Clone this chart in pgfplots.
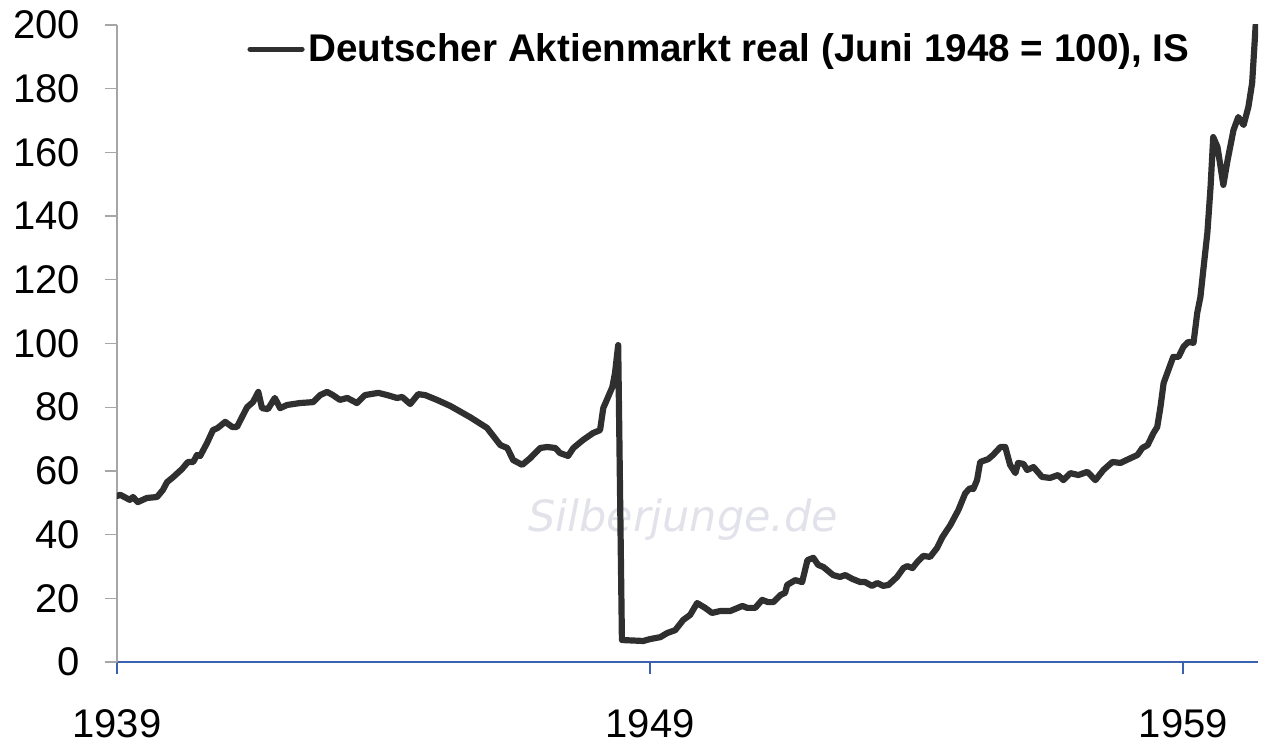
\documentclass[border=0pt]{standalone}
\usepackage{pgfplots}
\pgfplotsset{compat=1.18}
\usepackage{fontspec}
\setmainfont{Liberation Sans}
\newfontfamily\wmfont{DejaVu Sans}
\definecolor{linec}{HTML}{2F2F2F}
\definecolor{xblue}{HTML}{3A62B0}
\definecolor{wm}{HTML}{E2E2EA}
\begin{document}
\begin{tikzpicture}
\useasboundingbox (-58.5pt,-41.5pt) rectangle (574pt,331pt);
\begin{axis}[
  at={(0,0)}, anchor=south west,
  scale only axis, width=570.5pt, height=318.5pt,
  xmin=1939, xmax=1960.4, ymin=0, ymax=200,
  axis x line*=bottom, axis y line*=left,
  x axis line style={xblue, line width=1pt},
  y axis line style={gray!70, line width=0.6pt},
  xtick={1939,1949,1959},
  xticklabels={1939,1949,1959},
  ytick={0,20,...,200},
  tick align=outside,
  major tick length=6pt,
  x tick style={xblue, line width=1pt},
  y tick style={gray!70, line width=0.6pt},
  /pgf/number format/assume math mode=true,
  tick label style={font=\fontsize{20}{24}\selectfont, text=black},
  yticklabel style={xshift=-9pt},
  xticklabel style={inner sep=0pt, yshift=-17.5pt},
  clip=true,
  legend style={draw=none, fill=none, at={(axis description cs:0.1140,0.9620)}, anchor=west,
    inner sep=0pt, font=\bfseries\fontsize{19.3}{22}\selectfont, nodes={inner sep=2pt}},
  legend image code/.code={\draw[#1, line width=2.6pt] (0pt,0pt) -- (26pt,0pt);},
]
\node[font=\wmfont\itshape\fontsize{21.5}{24}\selectfont, text=wm] at (axis cs:1949.62,44.6) {Silberjunge.de};
\addplot[linec, line width=3.1pt, line join=round, line cap=round] table {
1939.00 52.1
1939.06 52.5
1939.24 50.9
1939.30 51.8
1939.39 50.2
1939.56 51.5
1939.75 51.8
1939.86 54.0
1939.94 56.5
1940.05 58.0
1940.22 60.6
1940.33 62.8
1940.43 62.8
1940.50 65.0
1940.56 64.7
1940.69 68.8
1940.80 72.8
1940.89 73.5
1941.03 75.4
1941.16 73.8
1941.25 73.8
1941.44 80.0
1941.55 81.6
1941.65 84.8
1941.72 79.7
1941.83 79.4
1941.96 82.9
1942.06 79.7
1942.19 80.7
1942.43 81.3
1942.68 81.6
1942.81 83.8
1942.94 84.8
1943.05 83.8
1943.18 82.3
1943.32 82.9
1943.50 81.3
1943.65 83.8
1943.90 84.5
1944.07 83.8
1944.25 82.9
1944.35 83.2
1944.50 81.0
1944.65 84.1
1944.78 83.8
1945.00 82.3
1945.25 80.4
1945.62 76.9
1945.94 73.5
1946.19 68.1
1946.32 67.2
1946.43 63.4
1946.60 61.9
1946.75 64.0
1946.94 67.2
1947.07 67.5
1947.22 67.2
1947.31 65.6
1947.46 64.7
1947.56 67.2
1947.74 69.7
1947.93 71.9
1948.06 72.8
1948.12 79.7
1948.29 86.3
1948.34 90.7
1948.40 99.5
1948.47 6.9
1948.87 6.6
1949.00 7.2
1949.19 7.8
1949.32 9.1
1949.47 10.0
1949.62 13.2
1949.75 14.8
1949.88 18.5
1950.03 17.0
1950.16 15.4
1950.31 16.0
1950.50 16.0
1950.73 17.6
1950.82 17.0
1950.97 17.0
1951.10 19.5
1951.21 18.8
1951.31 18.8
1951.44 21.0
1951.53 21.7
1951.57 24.2
1951.72 25.7
1951.85 25.1
1951.95 32.0
1952.06 32.7
1952.15 30.5
1952.25 29.8
1952.43 27.3
1952.56 26.7
1952.66 27.3
1952.79 26.1
1952.94 25.1
1953.03 25.1
1953.16 23.9
1953.26 24.8
1953.37 23.9
1953.47 24.2
1953.63 26.7
1953.75 29.5
1953.82 30.1
1953.92 29.5
1954.01 31.4
1954.12 33.3
1954.25 33.0
1954.38 35.8
1954.48 39.2
1954.63 43.0
1954.78 47.7
1954.91 53.0
1955.00 54.6
1955.06 54.3
1955.13 57.1
1955.19 62.8
1955.34 63.7
1955.43 65.0
1955.57 67.5
1955.66 67.5
1955.75 61.9
1955.85 59.3
1955.90 62.5
1956.00 62.2
1956.07 60.3
1956.19 61.2
1956.35 58.1
1956.50 57.8
1956.65 58.7
1956.75 57.1
1956.88 59.3
1957.03 58.7
1957.20 59.7
1957.35 57.1
1957.50 60.3
1957.67 62.8
1957.82 62.5
1958.01 64.0
1958.14 65.0
1958.23 67.2
1958.33 68.1
1958.44 71.9
1958.51 73.8
1958.57 80.0
1958.63 87.6
1958.72 91.7
1958.81 95.8
1958.91 95.8
1959.00 98.9
1959.09 100.5
1959.19 100.2
1959.26 109.6
1959.32 114.6
1959.38 124.0
1959.45 134.7
1959.51 149.1
1959.56 164.8
1959.64 161.7
1959.75 149.8
1959.83 157.6
1959.94 167.0
1960.03 171.1
1960.13 168.6
1960.22 174.3
1960.29 181.8
1960.36 201.0
};
\addlegendentry{Deutscher Aktienmarkt real (Juni 1948 = 100), IS}
\end{axis}
\end{tikzpicture}
\end{document}
